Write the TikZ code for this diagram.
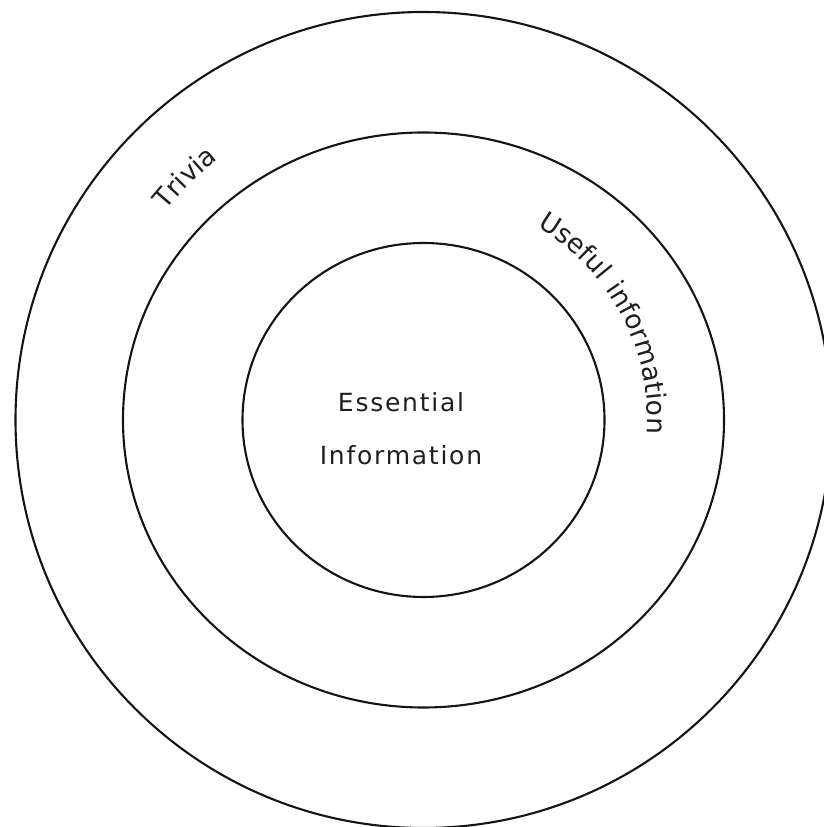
\documentclass[tikz,border=0pt]{standalone}
\usepackage{fontspec}
\setmainfont{DejaVu Sans}
\newfontfamily\ringfont[LetterSpace=7]{DejaVu Sans}
\usetikzlibrary{decorations.text}

\newcommand{\ringtextfont}{\ringfont\fontsize{25}{53}\selectfont\color{black!88}}
\newcommand{\bandtextfont}{\ringfont\fontsize{26.5}{53}\selectfont\color{black!88}}

\tikzset{
    ring/.style={draw=black!92, line width=2.1pt},
    ringlabel/.style={decorate, decoration={text along path, text align=center,
        text={|\bandtextfont|#1}}}
}

\begin{document}
\begin{tikzpicture}[x=1pt,y=1pt]
    \useasboundingbox (0,0) rectangle (823,827);
    \coordinate (centre) at (423.5,407);
    % the three rings
    \draw[ring] (centre) circle[radius=408];
    \draw[ring] (centre) ellipse[x radius=300.5, y radius=287.5];
    \draw[ring] (centre) ellipse[x radius=181, y radius=177];
    % curved labels
    \path[ringlabel=Trivia] ([shift={(165:332)}]centre) arc[start angle=165, end angle=104, radius=332];
    \path[ringlabel=Useful information] ([shift={(68:224)}]centre) arc[start angle=68, end angle=-12, radius=224];
    \node[align=center, font=\ringtextfont] (essential) at (401,398) {Essential\\Information};
\end{tikzpicture}
\end{document}
